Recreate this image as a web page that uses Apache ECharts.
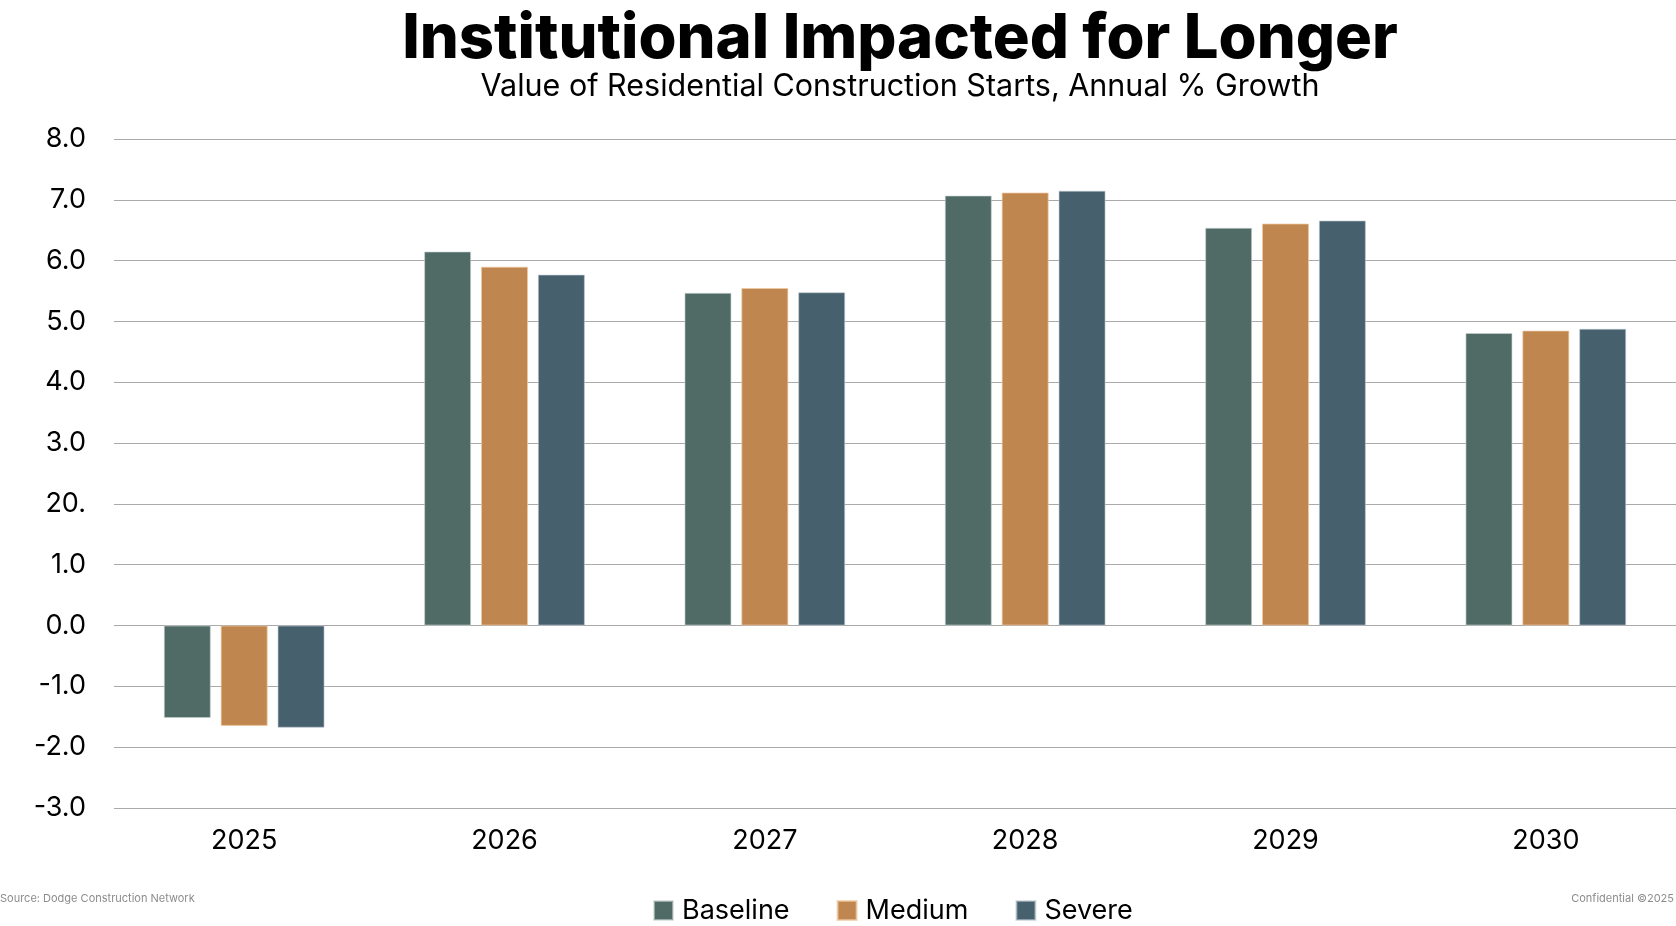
<!DOCTYPE html>
<html>
<head>
<meta charset="utf-8">
<script src="https://cdn.jsdelivr.net/npm/echarts@6/dist/echarts.min.js"></script>
<style>
  html, body { margin: 0; padding: 0; background: #fff; }
  #chart { width: 1676px; height: 926px; }
</style>
</head>
<body>
<div id="chart"></div>
<script>
var years = ['2025', '2026', '2027', '2028', '2029', '2030'];
var baseline = [-1.52, 6.15, 5.47, 7.07, 6.54, 4.81];
var medium = [-1.65, 5.90, 5.55, 7.12, 6.61, 4.85];
var severe = [-1.68, 5.77, 5.48, 7.15, 6.66, 4.88];
// tick labels as printed in the original (including its "20." typo)
var tickLabels = ['-3.0', '-2.0', '-1.0', '0.0', '1.0', '20.', '3.0', '4.0', '5.0', '6.0', '7.0', '8.0'];

var font = 'Inter';
var chart = echarts.init(document.getElementById('chart'));

var options = {
  backgroundColor: '#fff',
  animation: false,
  title: [
    {
      text: 'Institutional Impacted for Longer',
      left: 895, top: 4, textAlign: 'center',
      textStyle: { fontFamily: font, fontWeight: 800, fontSize: 61.5, color: '#000' }
    },
    {
      text: 'Value of Residential Construction Starts, Annual % Growth',
      left: 895, top: 66, textAlign: 'center',
      textStyle: { fontFamily: font, fontWeight: 'normal', fontSize: 30.5, color: '#000' }
    },
    {
      text: 'Source: Dodge Construction Network',
      left: 0, top: 893, padding: 0,
      textStyle: { fontFamily: font, fontWeight: 'normal', fontSize: 11, color: '#8c8c8c' }
    },
    {
      text: 'Confidential \u00a92025',
      right: 2, top: 893, padding: 0,
      textStyle: { fontFamily: font, fontWeight: 'normal', fontSize: 11, color: '#8c8c8c' }
    }
  ],

  legend: {
    data: ['Baseline', 'Medium', 'Severe'],
    left: 648, top: 892,
    icon: 'rect',
    itemWidth: 19, itemHeight: 19,
    itemGap: 47,
    textStyle: { fontFamily: font, fontSize: 27, color: '#000', padding: [0, 0, 0, 4] }
  },

  grid: { left: 114, right: 0, top: 139, bottom: 118 },

  xAxis: {
    type: 'category',
    data: years,
    axisLine: { show: false },
    axisTick: { show: false },
    axisLabel: { fontFamily: font, fontSize: 27, color: '#000', margin: 19 }
  },

  yAxis: {
    type: 'value',
    min: -3, max: 8, interval: 1,
    axisLabel: {
      fontFamily: font, fontSize: 27, color: '#000', margin: 28,
      formatter: function(v) { return tickLabels[Math.round(v) + 3]; }
    },
    splitLine: { lineStyle: { color: '#aaaaaa', width: 1.2 } }
  },

  series: [
    {
      name: 'Baseline', type: 'bar', data: baseline,
      barWidth: 47, barGap: '21%',
      itemStyle: { color: '#506b66', borderColor: 'rgba(200,210,210,0.6)', borderWidth: 1 }
    },
    {
      name: 'Medium', type: 'bar', data: medium,
      barWidth: 47,
      itemStyle: { color: '#bf864f', borderColor: 'rgba(240,200,160,0.7)', borderWidth: 1 }
    },
    {
      name: 'Severe', type: 'bar', data: severe,
      barWidth: 47,
      itemStyle: { color: '#46606d', borderColor: 'rgba(190,200,210,0.6)', borderWidth: 1 }
    }
  ]
};

chart.setOption(options);
</script>
</body>
</html>
